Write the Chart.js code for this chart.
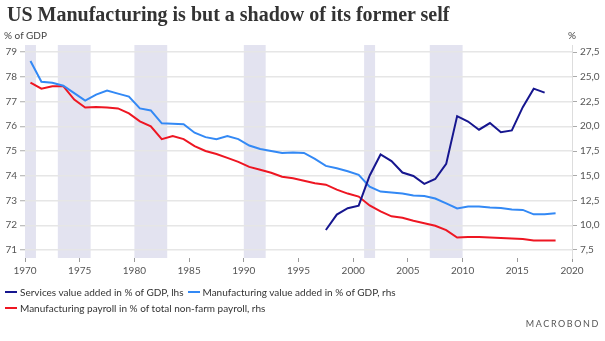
<!DOCTYPE html>
<html>
<head>
<meta charset="utf-8">
<script src="https://cdn.jsdelivr.net/npm/chart.js@4.4.1/dist/chart.umd.min.js"></script>
<style>
  body { margin: 0; background: #fff; }
  #wrap { position: relative; width: 605px; height: 341px; overflow: hidden; font-family: Lato, sans-serif; }
  #chart { position: absolute; left: 0; top: 0; }
  .title { position: absolute; left: 7px; top: 3px; font: bold 20px "Liberation Serif", serif; color: #333; white-space: nowrap; }
  .unit { position: absolute; top: 29px; font-size: 10px; color: #444; }
  #legend { position: absolute; left: 5px; top: 284px; width: 420px; display: flex; flex-wrap: wrap; font-size: 10px; color: #333; }
  #legend .item { display: flex; align-items: center; height: 16px; margin-right: 4px; white-space: nowrap; }
  #legend .swatch { width: 12px; height: 2px; margin-right: 3px; }
  .logo { position: absolute; right: 5px; top: 318px; font-size: 9px; letter-spacing: 1.6px; color: #555; }
</style>
</head>
<body>
<div id="wrap">
  <canvas id="chart" width="605" height="341"></canvas>
  <div class="title">US Manufacturing is but a shadow of its former self</div>
  <div class="unit" style="left:4px">% of GDP</div>
  <div class="unit" style="left:568px">%</div>
  <div id="legend"></div>
  <div class="logo">MACROBOND</div>
</div>
<script>
// annual data, plotted at mid-year
const years = [1970, 1971, 1972, 1973, 1974, 1975, 1976, 1977, 1978, 1979,
    1980, 1981, 1982, 1983, 1984, 1985, 1986, 1987, 1988, 1989,
    1990, 1991, 1992, 1993, 1994, 1995, 1996, 1997, 1998, 1999,
    2000, 2001, 2002, 2003, 2004, 2005, 2006, 2007, 2008, 2009,
    2010, 2011, 2012, 2013, 2014, 2015, 2016, 2017, 2018];

// Manufacturing value added in % of GDP (rhs)
const manufValueAdded = [26.6, 24.5, 24.4, 24.1, 23.35, 22.6, 23.2, 23.6, 23.3, 23.0,
    21.8, 21.6, 20.3, 20.25, 20.2, 19.35, 18.9, 18.7, 19.0, 18.7,
    18.05, 17.7, 17.5, 17.3, 17.35, 17.3, 16.7, 16.0, 15.75, 15.45,
    15.1, 13.9, 13.4, 13.3, 13.2, 13.0, 12.95, 12.7, 12.2, 11.7,
    11.9, 11.9, 11.8, 11.75, 11.6, 11.55, 11.1, 11.1, 11.2];

// Manufacturing payroll in % of total non-farm payroll (rhs)
const manufPayroll = [24.4, 23.8, 24.05, 24.05, 22.7, 21.9, 21.95, 21.9, 21.8, 21.3,
    20.5, 20.0, 18.7, 19.0, 18.7, 18.0, 17.5, 17.2, 16.8, 16.4,
    15.9, 15.6, 15.3, 14.9, 14.75, 14.5, 14.25, 14.1, 13.6, 13.2,
    12.9, 12.0, 11.4, 10.9, 10.75, 10.45, 10.2, 9.95, 9.5, 8.75,
    8.8, 8.8, 8.75, 8.7, 8.65, 8.6, 8.45, 8.45, 8.45];

// Services value added in % of GDP (lhs)
const servicesYears = [1997, 1998, 1999, 2000, 2001, 2002, 2003, 2004, 2005, 2006,
    2007, 2008, 2009, 2010, 2011, 2012, 2013, 2014, 2015, 2016, 2017];
const servicesShare = [71.81, 72.43, 72.69, 72.79, 74.0, 74.86, 74.59, 74.13, 73.99, 73.67,
    73.87, 74.48, 76.41, 76.19, 75.86, 76.13, 75.76, 75.83, 76.77, 77.52, 77.36];

// shaded recession periods
const recessionStart = [1970, 1973, 1980, 1990, 2001, 2007];
const recessionEnd = [1971, 1976, 1983, 1992, 2002, 2010];

const xTicks = [1970, 1975, 1980, 1985, 1990, 1995, 2000, 2005, 2010, 2015, 2020];
const leftTicks = [71, 72, 73, 74, 75, 76, 77, 78, 79];
const rightTicks = [7.5, 10, 12.5, 15, 17.5, 20, 22.5, 25, 27.5];

const toPoints = (xs, ys) => xs.map((yr, i) => ({ x: yr + 0.5, y: ys[i] }));

const tickFont = { family: 'Lato', size: 10 };

const recessionBands = {
    id: 'recessionBands',
    beforeDraw(chart) {
        const { ctx, chartArea, scales: { x } } = chart;
        ctx.save();
        ctx.fillStyle = '#e3e3f0';
        recessionStart.forEach((start, i) => {
            const x0 = x.getPixelForValue(start);
            const x1 = x.getPixelForValue(recessionEnd[i]);
            ctx.fillRect(x0, chartArea.top, x1 - x0, chartArea.bottom - chartArea.top);
        });
        ctx.restore();
    }
};

const chart = new Chart(document.getElementById('chart'), {
    type: 'line',
    data: {
        datasets: [{
            label: 'Services value added in % of GDP, lhs',
            data: toPoints(servicesYears, servicesShare),
            yAxisID: 'y',
            borderColor: '#16168f',
            borderWidth: 2
        }, {
            label: 'Manufacturing value added in % of GDP, rhs',
            data: toPoints(years, manufValueAdded),
            yAxisID: 'y2',
            borderColor: '#3389f5',
            borderWidth: 2
        }, {
            label: 'Manufacturing payroll in % of total non-farm payroll, rhs',
            data: toPoints(years, manufPayroll),
            yAxisID: 'y2',
            borderColor: '#ee1622',
            borderWidth: 2
        }]
    },
    options: {
        responsive: false,
        animation: false,
        layout: { padding: { top: 45, left: 0, right: 0, bottom: 0 } },
        elements: { point: { radius: 0 }, line: { tension: 0 } },
        plugins: { legend: { display: false }, tooltip: { enabled: false } },
        scales: {
            x: {
                type: 'linear',
                min: 1970,
                max: 2020,
                afterBuildTicks: s => { s.ticks = xTicks.map(v => ({ value: v })); },
                afterFit: s => { s.height = 83; },
                ticks: { color: '#555', font: tickFont, padding: 3, maxRotation: 0, autoSkip: false, callback: v => String(v) },
                grid: { drawOnChartArea: false, tickLength: 4, tickColor: '#999' },
                border: { display: false }
            },
            y: {
                position: 'left',
                min: 70.677,
                max: 79.283,
                afterBuildTicks: s => { s.ticks = leftTicks.map(v => ({ value: v })); },
                afterFit: s => { s.width = 25; },
                ticks: { color: '#555', font: tickFont, padding: 3, callback: v => String(v) },
                grid: { color: '#e6e6e6', lineWidth: 1.5, tickLength: 5, tickColor: '#aaa', tickWidth: 1 },
                border: { display: false }
            },
            y2: {
                position: 'right',
                min: 6.69,
                max: 28.21,
                afterBuildTicks: s => { s.ticks = rightTicks.map(v => ({ value: v })); },
                afterFit: s => { s.width = 33; },
                ticks: { color: '#555', font: tickFont, padding: 3, callback: v => v.toFixed(1).replace('.', ',') },
                grid: { drawOnChartArea: false, tickLength: 5, tickColor: '#aaa' },
                border: { display: true, color: '#ddd', width: 1 }
            }
        }
    },
    plugins: [recessionBands]
});

// legend
const legend = document.getElementById('legend');
chart.data.datasets.forEach(ds => {
    legend.innerHTML += `<div class="item"><span class="swatch" style="background:${ds.borderColor}"></span>${ds.label}</div>`;
});
</script>
</body>
</html>
